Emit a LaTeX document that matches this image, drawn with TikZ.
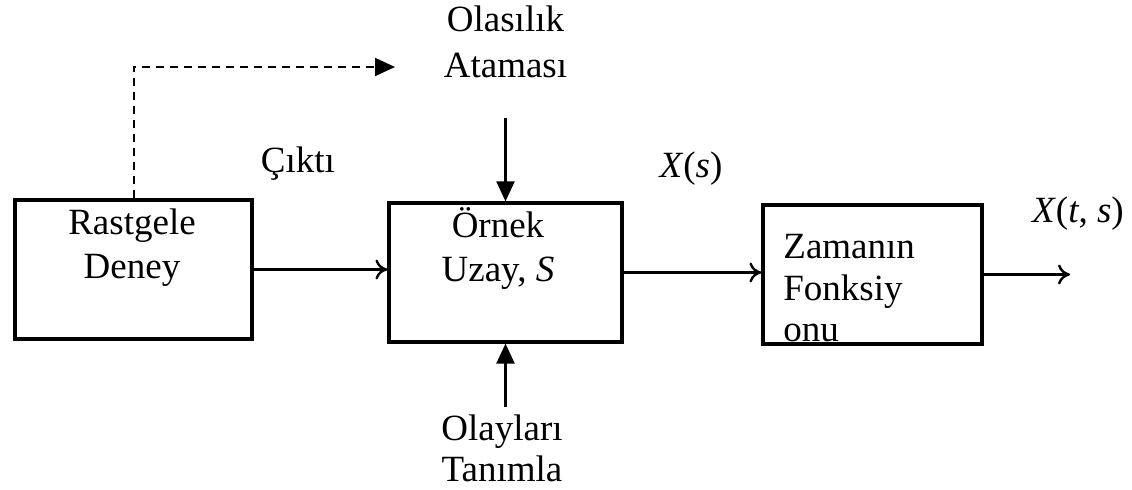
\documentclass[tikz,border=0pt]{standalone}
\usepackage{fontspec}
\setmainfont{Liberation Serif}
\usetikzlibrary{positioning,arrows.meta}
\tikzset{
  blockbox/.style={draw, line width=1.6pt, inner sep=0pt, minimum height=69.5pt},
  flowarrow/.style={-{To[length=6pt,width=10pt,line width=1.2pt]}, line width=1.2pt},
  feedarrow/.style={-{Triangle[length=10pt,width=9pt]}, line width=1.1pt},
  dasharrow/.style={-{Triangle[length=10pt,width=9pt]}, line width=1pt, dash pattern=on 4pt off 3pt},
  lbl/.style={font=\fontsize{18.5}{22}\selectfont, inner sep=0pt, align=center}
}

\begin{document}
\begin{tikzpicture}[x=0.5pt, y=-0.5pt]
  \useasboundingbox (0,0) rectangle (1132,490);
  % blocks
  \node[blockbox, minimum width=118.5pt] (deney) at (133.5,269.5) {};
  \node[blockbox, minimum width=116.5pt] (uzay) at (505.5,272.5) {};
  \node[blockbox, minimum width=109.5pt] (zaman) at (872.5,274.5) {};
  % texts
  \node[lbl, anchor=base] (deneyyazi) at (132,279) {Rastgele\\Deney};
  \node[lbl, anchor=base] (uzayyazi) at (498,282) {Örnek\\Uzay, \textit{S}};
  \node[lbl, anchor=base west, align=left, font=\fontsize{18.5}{20.8}\selectfont] (zamanyazi) at (783,342) {Zamanın\\Fonksiy\\onu};
  \node[lbl, anchor=base, font=\fontsize{18.5}{23}\selectfont] (atama) at (505.5,78) {Olasılık\\Ataması};
  \node[lbl, anchor=base, font=\fontsize{18.5}{20.5}\selectfont] (olay) at (502,482) {Olayları\\Tanımla};
  \node[lbl, anchor=base] (cikti) at (298,173) {Çıktı};
  \node[lbl, anchor=base] (xs) at (691,178) {\textit{X}(\textit{s})};
  \node[lbl, anchor=base] (xts) at (1078,223) {\textit{X}(\textit{t}, \textit{s})};
  % free ends
  \coordinate (atamaucu) at (505.5,118);
  \coordinate (olayucu) at (505.5,407);
  \coordinate (dashucu) at (395,67);
  \coordinate (cikis) at (1070,275);
  % connectors
  \draw[flowarrow] (deney.east) -- (deney.east -| uzay.west);
  \draw[flowarrow] (uzay.east) -- (uzay.east -| zaman.west);
  \draw[flowarrow] (zaman.east) -- (zaman.east -| cikis);
  \draw[feedarrow] (atamaucu) -- (uzay.north);
  \draw[feedarrow] (olayucu) -- (uzay.south);
  \draw[dasharrow] (deney.north) |- (dashucu);
\end{tikzpicture}
\end{document}
